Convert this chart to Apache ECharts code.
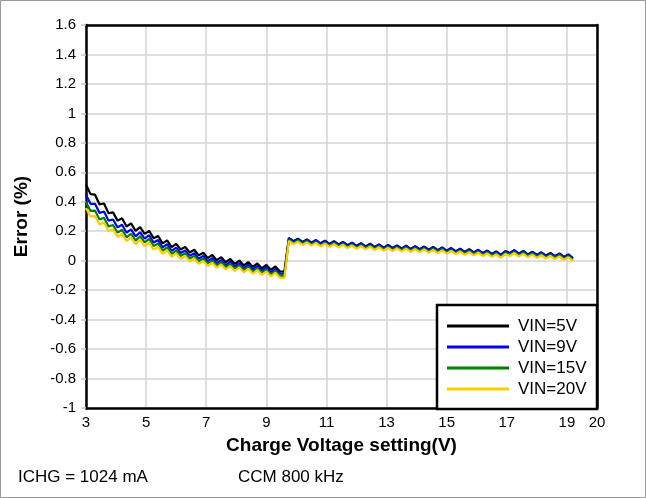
<!DOCTYPE html>
<html>
<head>
<meta charset="utf-8">
<script src="https://cdn.jsdelivr.net/npm/echarts@6/dist/echarts.min.js"></script>
<style>
html,body{margin:0;padding:0;background:#fff;}
#chart{width:646px;height:498px;}
</style>
</head>
<body>
<div id="chart"></div>
<script>
// Charge voltage setting (V)
var volts = [3.00,3.15,3.30,3.45,3.60,3.75,3.90,4.05,4.20,4.35,4.50,4.65,4.80,4.95,5.10,5.25,5.40,5.55,5.70,5.85,6.00,6.15,6.30,6.45,6.60,6.75,6.90,7.05,7.20,7.35,7.50,7.65,7.80,7.95,8.10,8.25,8.40,8.55,8.70,8.85,9.00,9.15,9.30,9.45,9.60,9.75,9.90,10.05,10.20,10.35,10.50,10.65,10.80,10.95,11.10,11.25,11.40,11.55,11.70,11.85,12.00,12.15,12.30,12.45,12.60,12.75,12.90,13.05,13.20,13.35,13.50,13.65,13.80,13.95,14.10,14.25,14.40,14.55,14.70,14.85,15.00,15.15,15.30,15.45,15.60,15.75,15.90,16.05,16.20,16.35,16.50,16.65,16.80,16.95,17.10,17.25,17.40,17.55,17.70,17.85,18.00,18.15,18.30,18.45,18.60,18.75,18.90,19.05,19.20];

var vin5 = [0.518,0.452,0.448,0.382,0.388,0.322,0.328,0.272,0.288,0.232,
0.253,0.202,0.228,0.182,0.203,0.152,0.168,0.117,0.138,0.092,
0.114,0.076,0.094,0.056,0.074,0.036,0.054,0.018,0.039,0.004,
0.024,-0.010,0.012,-0.022,0.001,-0.032,-0.009,-0.042,-0.019,-0.052,
-0.029,-0.062,-0.039,-0.072,-0.075,
0.155,0.132,0.149,0.127,0.144,
0.122,0.140,0.118,0.136,0.114,0.132,0.110,0.128,0.105,0.123,
0.101,0.119,0.097,0.115,0.093,0.111,0.089,0.107,0.086,0.104,
0.083,0.102,0.080,0.099,0.078,0.096,0.075,0.093,0.071,0.090,
0.068,0.086,0.064,0.082,0.060,0.078,0.056,0.074,0.052,0.069,
0.046,0.063,0.040,0.065,0.052,0.072,0.048,0.066,0.043,0.061,
0.039,0.057,0.035,0.053,0.031,0.049,0.026,0.043,0.018];

var vin9 = [0.448,0.386,0.386,0.324,0.334,0.272,0.280,0.226,0.244,0.190,
0.213,0.165,0.193,0.150,0.173,0.123,0.140,0.090,0.112,0.067,
0.089,0.052,0.070,0.033,0.051,0.014,0.032,-0.003,0.018,-0.016,
0.004,-0.030,-0.007,-0.041,-0.017,-0.050,-0.027,-0.059,-0.036,-0.069,
-0.045,-0.078,-0.055,-0.087,-0.090,
0.152,0.129,0.146,0.124,0.141,
0.119,0.137,0.115,0.133,0.111,0.129,0.107,0.125,0.102,0.120,
0.098,0.116,0.094,0.112,0.090,0.108,0.086,0.104,0.083,0.101,
0.080,0.099,0.077,0.096,0.075,0.093,0.072,0.090,0.068,0.087,
0.065,0.083,0.061,0.079,0.057,0.075,0.053,0.071,0.049,0.066,
0.043,0.060,0.037,0.062,0.049,0.069,0.045,0.063,0.040,0.058,
0.036,0.054,0.032,0.050,0.028,0.046,0.023,0.040,0.015];

var vin15 = [0.398,0.338,0.340,0.280,0.292,0.232,0.242,0.190,0.210,0.158,
0.183,0.136,0.166,0.124,0.148,0.099,0.117,0.068,0.091,0.047,
0.069,0.032,0.051,0.014,0.033,-0.004,0.015,-0.020,0.002,-0.032,
-0.011,-0.045,-0.022,-0.056,-0.032,-0.065,-0.041,-0.074,-0.050,-0.083,
-0.059,-0.092,-0.068,-0.101,-0.103,
0.143,0.120,0.137,0.115,0.132,
0.110,0.128,0.106,0.124,0.102,0.120,0.098,0.116,0.093,0.111,
0.089,0.107,0.085,0.103,0.081,0.099,0.077,0.095,0.074,0.092,
0.071,0.090,0.068,0.087,0.066,0.084,0.063,0.081,0.059,0.078,
0.056,0.074,0.052,0.070,0.048,0.066,0.044,0.062,0.040,0.057,
0.034,0.051,0.028,0.053,0.040,0.060,0.036,0.054,0.031,0.049,
0.027,0.045,0.023,0.041,0.019,0.037,0.014,0.031,0.006];

var vin20 = [0.358,0.300,0.304,0.246,0.260,0.202,0.213,0.162,0.183,0.132,
0.158,0.111,0.141,0.099,0.123,0.075,0.094,0.046,0.070,0.026,
0.049,0.013,0.032,-0.004,0.015,-0.021,-0.002,-0.036,-0.014,-0.047,
-0.026,-0.059,-0.037,-0.070,-0.046,-0.079,-0.055,-0.088,-0.064,-0.097,
-0.073,-0.106,-0.082,-0.115,-0.117,
0.135,0.112,0.129,0.107,0.124,
0.102,0.120,0.098,0.116,0.094,0.112,0.090,0.108,0.085,0.103,
0.081,0.099,0.077,0.095,0.073,0.091,0.069,0.087,0.066,0.084,
0.063,0.082,0.060,0.079,0.058,0.076,0.055,0.073,0.051,0.070,
0.048,0.066,0.044,0.062,0.040,0.058,0.036,0.054,0.032,0.049,
0.026,0.043,0.020,0.045,0.032,0.052,0.028,0.046,0.023,0.041,
0.019,0.037,0.015,0.033,0.011,0.029,0.006,0.023,-0.002];

var seriesNames = ['VIN=5V','VIN=9V','VIN=15V','VIN=20V'];
var seriesColors = ['#000000','#0000ff','#008000','#ffcc00'];
var seriesValues = [vin5, vin9, vin15, vin20];

var xTitle = 'Charge Voltage setting(V)';
var yTitle = 'Error (%)';
var note1 = 'ICHG = 1024 mA';
var note2 = 'CCM 800 kHz';

var FONT = '"Liberation Sans", Arial, sans-serif';

function pairs(vals){ return volts.map(function(v,i){ return [v, vals[i]]; }); }

var frameLine = {show:true,onZero:false,lineStyle:{color:'#000',width:2.5}};

var chart = echarts.init(document.getElementById('chart'), null, {renderer:'canvas'});
chart.setOption({
  animation:false,
  backgroundColor:'#fff',
  grid:{left:86,right:49,top:25,bottom:90},
  xAxis:[{
    type:'value',min:3,max:20,interval:2,
    name:xTitle,nameLocation:'middle',nameGap:28,
    nameTextStyle:{fontFamily:FONT,fontSize:19,fontWeight:'bold',color:'#000'},
    axisLine:frameLine,
    axisTick:{show:false},
    axisLabel:{fontFamily:FONT,fontSize:15,color:'#000',margin:7,showMaxLabel:true,showMinLabel:true},
    splitLine:{show:true,lineStyle:{color:'#d3d3d3',width:1.5}}
  },{
    type:'value',min:3,max:20,interval:2,position:'top',
    axisLine:frameLine,axisTick:{show:false},axisLabel:{show:false},splitLine:{show:false}
  }],
  yAxis:[{
    type:'value',min:-1,max:1.6,interval:0.2,
    name:yTitle,nameLocation:'middle',nameGap:55,
    nameTextStyle:{fontFamily:FONT,fontSize:19,fontWeight:'bold',color:'#000'},
    axisLine:frameLine,
    axisTick:{show:true,length:5,lineStyle:{color:'#c8c8c8',width:1.5}},
    axisLabel:{fontFamily:FONT,fontSize:15,color:'#000',margin:10},
    splitLine:{show:true,lineStyle:{color:'#d3d3d3',width:1.5}}
  },{
    type:'value',min:-1,max:1.6,interval:0.2,position:'right',
    axisLine:frameLine,axisTick:{show:false},axisLabel:{show:false},splitLine:{show:false}
  }],
  legend:{
    orient:'vertical',left:442,top:312,
    icon:'rect',itemWidth:62,itemHeight:3,itemGap:3,
    data:seriesNames,
    textStyle:{fontFamily:FONT,fontSize:17,color:'#000',lineHeight:18,padding:[0,0,0,4]},
    z:10
  },
  graphic:[
    {type:'rect',shape:{x:0.5,y:0.5,width:645,height:497},style:{fill:'none',stroke:'#9a9a9a',lineWidth:1},z:100,silent:true},
    {type:'rect',shape:{x:437,y:305,width:160,height:104},style:{fill:'#fff',stroke:'#000',lineWidth:2.5},z:5,silent:true},
    {type:'text',left:18,top:469,style:{text:note1,fontFamily:FONT,fontSize:17,fill:'#000'},silent:true},
    {type:'text',left:238,top:469,style:{text:note2,fontFamily:FONT,fontSize:17,fill:'#000'},silent:true}
  ],
  series:seriesNames.map(function(n,k){
    return {name:n,type:'line',data:pairs(seriesValues[k]),showSymbol:false,symbol:'none',
      lineStyle:{color:seriesColors[k],width:2.2},itemStyle:{color:seriesColors[k]},z:2+k};
  })
});
</script>
</body>
</html>
